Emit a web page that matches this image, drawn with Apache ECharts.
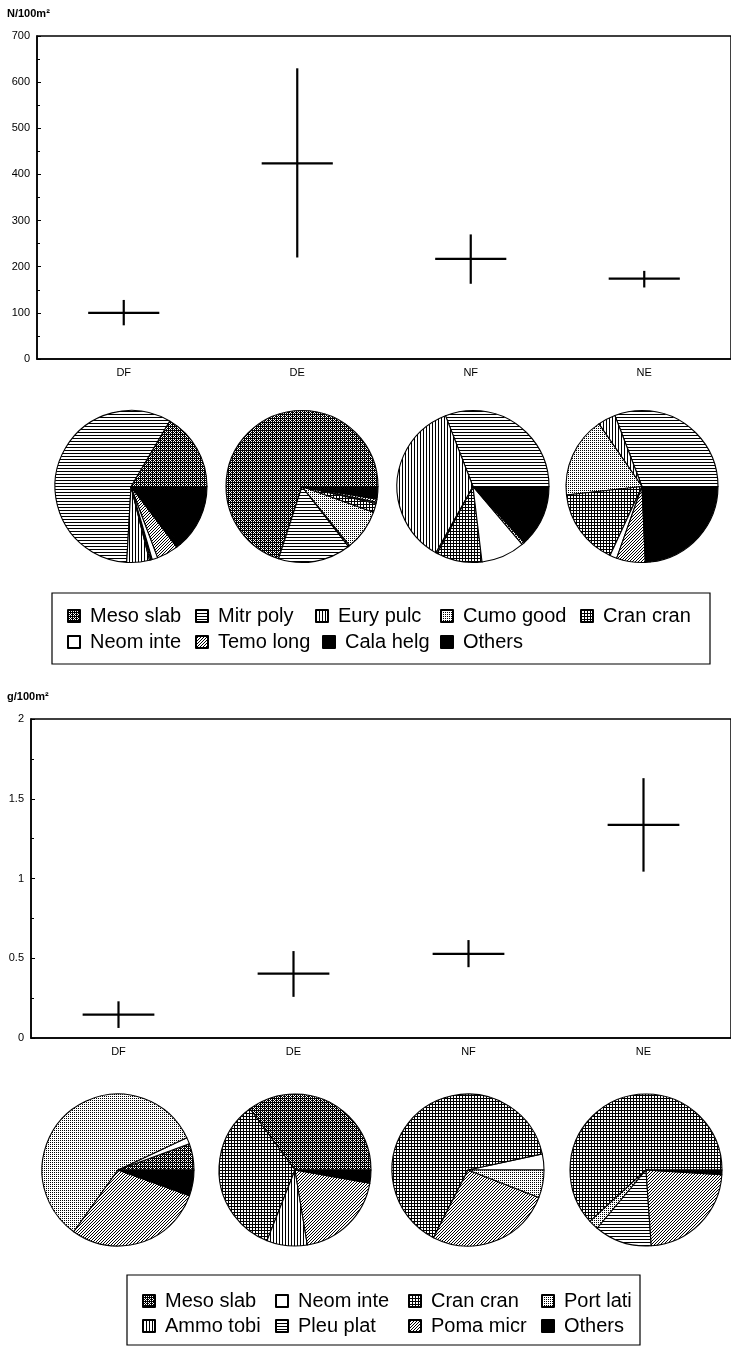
<!DOCTYPE html>
<html><head><meta charset="utf-8">
<script src="https://cdn.jsdelivr.net/npm/echarts@6/dist/echarts.min.js"></script>
<style>html,body{margin:0;padding:0;background:#fff}#c{width:731px;height:1346px}</style>
</head><body><div id="c"></div>
<script>
// ---------- data ----------
const stations = ['DF', 'DE', 'NF', 'NE'];

const abundanceTicks = [0, 100, 200, 300, 400, 500, 600, 700];
const abundanceMean = [100, 424, 217, 174];
const abundanceLow  = [73, 220, 163, 155];
const abundanceHigh = [128, 630, 270, 191];

const biomassTicks = [0, 0.5, 1, 1.5, 2];
const biomassMean = [0.147, 0.404, 0.528, 1.336];
const biomassLow  = [0.063, 0.258, 0.444, 1.043];
const biomassHigh = [0.230, 0.545, 0.614, 1.629];

const abundanceSpecies = ['Meso slab', 'Mitr poly', 'Eury pulc', 'Cumo good', 'Cran cran', 'Neom inte', 'Temo long', 'Cala helg', 'Others'];
const abundanceShareDF = [16.5, 57.6, 4.8, 0.3, 0.3, 1.2, 4.6, 1.0, 13.7];
const abundanceShareDE = [70.0, 15.5, 0.3, 8.7, 1.9, 0.3, 0.6, 0.5, 2.2];
const abundanceShareNF = [0, 30.9, 36.0, 0.3, 9.7, 9.3, 0.6, 1.0, 12.2];
const abundanceShareNE = [0, 30.8, 3.8, 17.2, 16.3, 1.5, 6.1, 1.0, 23.3];

const biomassSpecies = ['Meso slab', 'Neom inte', 'Cran cran', 'Port lati', 'Ammo tobi', 'Pleu plat', 'Poma micr', 'Others'];
const biomassShareDF = [5.6, 1.4, 0, 58.1, 0, 0, 29.4, 5.5];
const biomassShareDE = [35.1, 0, 33.9, 0, 8.6, 0, 19.6, 2.8];
const biomassShareNF = [0, 3.4, 64.1, 5.9, 0, 0, 26.6, 0];
const biomassShareNE = [0, 0, 61.8, 2.1, 0, 12.2, 22.9, 1.0];
// drawing order of the NF biomass pie as in the original figure
const biomassOrderNF = [0, 1, 2, 4, 5, 6, 3, 7];

// ---------- styling ----------
const FONT = '"Liberation Sans", Arial, Helvetica, sans-serif';
function pattern(size, draw) {
  const c = document.createElement('canvas');
  c.width = size; c.height = size;
  const g = c.getContext('2d');
  g.fillStyle = '#fff'; g.fillRect(0, 0, size, size);
  g.fillStyle = '#000';
  draw(g);
  return { image: c, repeat: 'repeat' };
}
const P = {
  stipple: pattern(4, g => { for (let y = 0; y < 4; y++) for (let x = 0; x < 4; x++) { if ((x + y) % 2 === 1 || (x === 0 && y === 0) || (x === 2 && y === 2) || (x === 0 && y === 2)) g.fillRect(x, y, 1, 1); } }),
  hlines: pattern(3, g => g.fillRect(0, 0, 3, 1)),
  vlines: pattern(3, g => g.fillRect(0, 0, 1, 3)),
  dots: pattern(2, g => g.fillRect(0, 0, 1, 1)),
  grid: pattern(3, g => { g.fillRect(0, 0, 3, 1); g.fillRect(0, 0, 1, 3); }),
  diag: pattern(3, g => { g.fillRect(2, 0, 1, 1); g.fillRect(1, 1, 1, 1); g.fillRect(0, 2, 1, 1); })
};
const speciesFill = {
  'Meso slab': P.stipple, 'Mitr poly': P.hlines, 'Eury pulc': P.vlines, 'Cumo good': P.dots,
  'Cran cran': P.grid, 'Neom inte': '#ffffff', 'Temo long': P.diag, 'Cala helg': '#000000',
  'Others': '#000000', 'Port lati': P.dots, 'Ammo tobi': P.vlines, 'Pleu plat': P.hlines, 'Poma micr': P.diag
};

function pieSeries(names, values, center, order) {
  const idx = order || names.map((_, i) => i);
  return {
    type: 'pie', center: center, radius: 76, startAngle: 0, clockwise: false,
    silent: true, animation: false, avoidLabelOverlap: false,
    label: { show: false }, labelLine: { show: false }, emphasis: { disabled: true },
    itemStyle: { borderColor: '#000', borderWidth: 1.1 },
    data: idx.filter(i => values[i] > 0).map(i => ({
      name: names[i], value: values[i], itemStyle: { color: speciesFill[names[i]] }
    }))
  };
}

function crossItem(params, api) {
  const x = api.value(0);
  const c = api.coord([x, api.value(1)]);
  const lo = api.coord([x, api.value(2)]);
  const hi = api.coord([x, api.value(3)]);
  const half = api.size([1, 0])[0] * 0.205;
  const st = { stroke: '#000', lineWidth: 2.2 };
  return { type: 'group', children: [
    { type: 'line', shape: { x1: c[0] - half, y1: c[1], x2: c[0] + half, y2: c[1] }, style: st },
    { type: 'line', shape: { x1: lo[0], y1: lo[1], x2: hi[0], y2: hi[1] }, style: st }
  ]};
}

function xAxisCfg(gi) {
  return {
    gridIndex: gi, type: 'category', data: stations, boundaryGap: true,
    axisLine: { lineStyle: { color: '#000', width: 1.5 } },
    axisTick: { inside: true, alignWithLabel: true, length: 7, lineStyle: { color: '#000', width: 1 } },
    axisLabel: { color: '#000', fontSize: 11, margin: 8, fontFamily: FONT },
    splitLine: { show: false }
  };
}
function yAxisCfg(gi, ticks) {
  return {
    gridIndex: gi, type: 'value', min: ticks[0], max: ticks[ticks.length - 1], interval: ticks[1] - ticks[0],
    axisLine: { show: true, lineStyle: { color: '#000', width: 1.5 } },
    axisTick: { show: true, inside: true, length: 4, lineStyle: { color: '#000' } },
    minorTick: { show: true, splitNumber: 2, length: 3, lineStyle: { color: '#000' } },
    axisLabel: { color: '#000', fontSize: 11, margin: 7, fontFamily: FONT },
    splitLine: { show: false }
  };
}

const topLegendSlots = [[67, 616], [195, 616], [315, 616], [440, 616], [580, 616], [67, 642], [195, 642], [322, 642], [440, 642]];
const bottomLegendSlots = [[142, 1301], [275, 1301], [408, 1301], [541, 1301], [142, 1326], [275, 1326], [408, 1326], [541, 1326]];
function legendItem(name, slot) {
  return {
    data: [name], left: slot[0], top: slot[1] - 11, padding: 0, itemGap: 0,
    icon: 'rect', itemWidth: 12, itemHeight: 12, selectedMode: false,
    textStyle: { fontSize: 20, color: '#000', fontFamily: FONT, lineHeight: 22, padding: [0, 0, 0, 5] }
  };
}

const chart = echarts.init(document.getElementById('c'), null, { renderer: 'canvas' });
chart.setOption({
  animation: false,
  backgroundColor: '#fff',
  title: [
    { text: 'N/100m²', left: 7, top: 8, padding: 0, textStyle: { fontSize: 11, fontWeight: 'bold', color: '#000', fontFamily: FONT } },
    { text: 'g/100m²', left: 7, top: 691, padding: 0, textStyle: { fontSize: 11, fontWeight: 'bold', color: '#000', fontFamily: FONT } }
  ],
  grid: [
    { left: 37, top: 36, right: -6, height: 323, show: true, borderColor: '#000', borderWidth: 1.5, backgroundColor: 'transparent' },
    { left: 31, top: 719, right: -5, height: 319, show: true, borderColor: '#000', borderWidth: 1.5, backgroundColor: 'transparent' }
  ],
  xAxis: [xAxisCfg(0), xAxisCfg(1)],
  yAxis: [yAxisCfg(0, abundanceTicks), yAxisCfg(1, biomassTicks)],
  legend: abundanceSpecies.map((n, i) => legendItem(n, topLegendSlots[i]))
    .concat(biomassSpecies.map((n, i) => legendItem(n, bottomLegendSlots[i]))),
  graphic: [
    { type: 'rect', shape: { x: 52, y: 593, width: 658, height: 71 }, style: { fill: 'none', stroke: '#000', lineWidth: 1.2 }, silent: true },
    { type: 'rect', shape: { x: 127, y: 1275, width: 513, height: 70 }, style: { fill: 'none', stroke: '#000', lineWidth: 1.2 }, silent: true }
  ],
  series: [
    { type: 'custom', xAxisIndex: 0, yAxisIndex: 0, renderItem: crossItem, silent: true, clip: false,
      encode: { x: 0, y: 1 },
      data: stations.map((s, i) => [i, abundanceMean[i], abundanceLow[i], abundanceHigh[i]]) },
    { type: 'custom', xAxisIndex: 1, yAxisIndex: 1, renderItem: crossItem, silent: true, clip: false,
      encode: { x: 0, y: 1 },
      data: stations.map((s, i) => [i, biomassMean[i], biomassLow[i], biomassHigh[i]]) },
    pieSeries(abundanceSpecies, abundanceShareDF, [131, 486.5]),
    pieSeries(abundanceSpecies, abundanceShareDE, [302, 486.5]),
    pieSeries(abundanceSpecies, abundanceShareNF, [473, 486.5]),
    pieSeries(abundanceSpecies, abundanceShareNE, [642, 486.5]),
    pieSeries(biomassSpecies, biomassShareDF, [118, 1170]),
    pieSeries(biomassSpecies, biomassShareDE, [295, 1170]),
    pieSeries(biomassSpecies, biomassShareNF, [468, 1170], biomassOrderNF),
    pieSeries(biomassSpecies, biomassShareNE, [646, 1170])
  ]
});
</script>
</body></html>
